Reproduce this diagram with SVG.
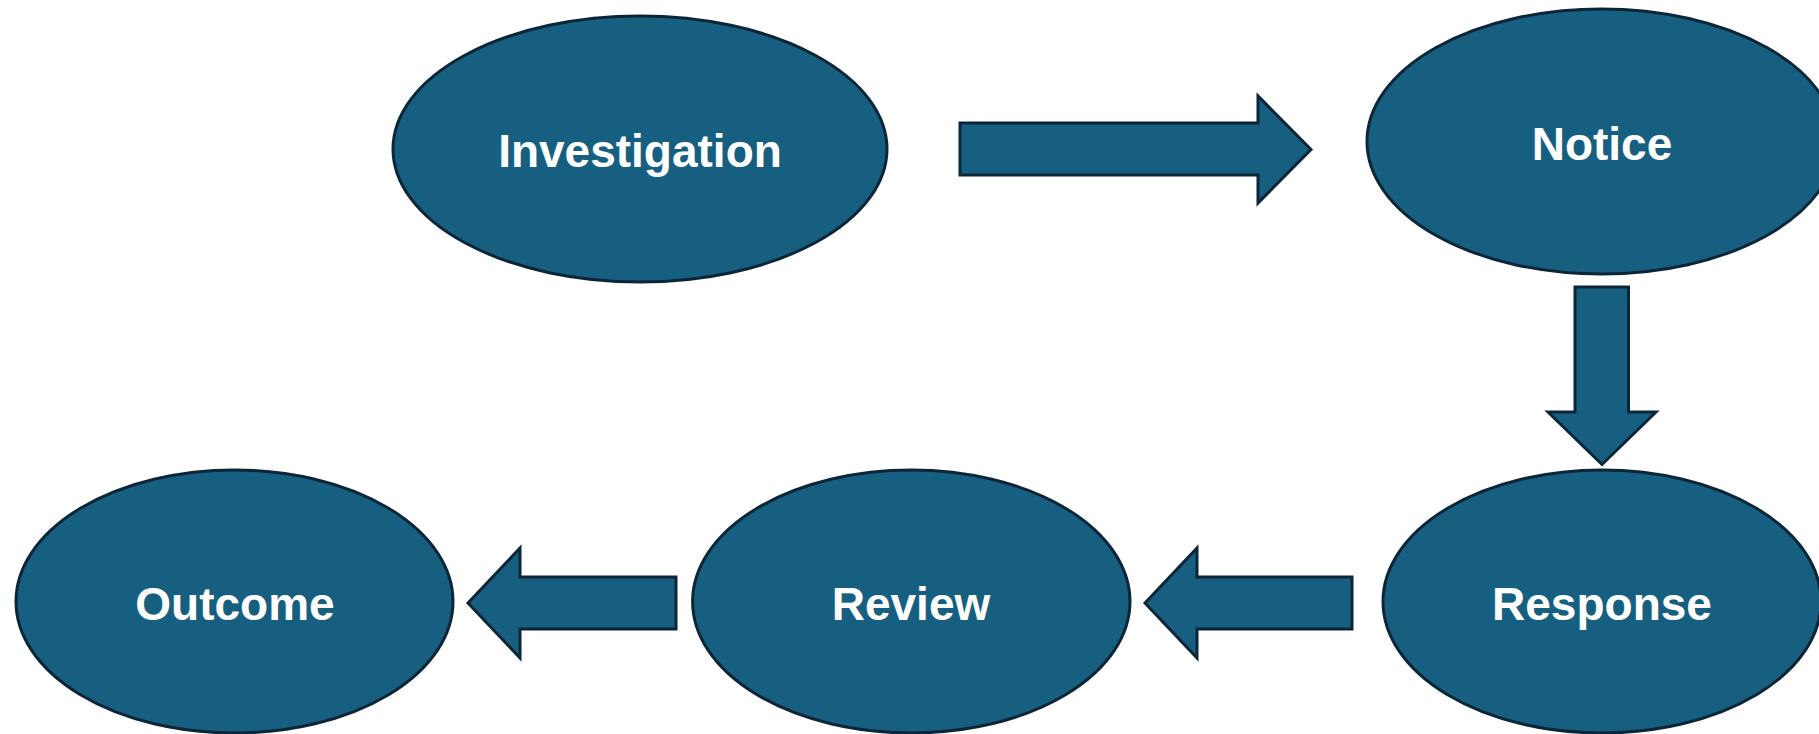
<svg xmlns="http://www.w3.org/2000/svg" width="1819" height="734" viewBox="0 0 1819 734">
<style>
.node{fill:#175F80;stroke:#0C2638;stroke-width:3}
.arrow{fill:#175F80;stroke:#0C2638;stroke-width:3;stroke-linejoin:miter}
.label{font-family:"Liberation Sans",Arial,sans-serif;font-weight:bold;font-size:46px;fill:#FFFFFF;text-anchor:middle}
</style>
<rect width="1819" height="734" fill="#FFFFFF"/>
<g id="connectors">
<polygon class="arrow" points="960,123 1258,123 1258,96 1311,149.5 1258,203 1258,175 960,175"/>
<polygon class="arrow" points="1575,287 1628.5,287 1628.5,412 1656,412 1602,464.5 1548,412 1575,412"/>
<polygon class="arrow" points="1352,577 1352,629 1197,629 1197,658 1145,603 1197,548 1197,577"/>
<polygon class="arrow" points="676,577 676,629 520,629 520,658 468,603 520,548 520,577"/>
</g>
<g id="investigation">
<ellipse class="node" cx="640" cy="149" rx="247" ry="133"/>
<text class="label" x="640" y="167">Investigation</text>
</g>
<g id="notice">
<ellipse class="node" cx="1601.5" cy="141.5" rx="234.5" ry="132.5"/>
<text class="label" x="1602" y="160">Notice</text>
</g>
<g id="response">
<ellipse class="node" cx="1602" cy="601.5" rx="219" ry="131.5"/>
<text class="label" x="1602" y="620">Response</text>
</g>
<g id="review">
<ellipse class="node" cx="911.3" cy="601.5" rx="218.7" ry="131.5"/>
<text class="label" x="911" y="620">Review</text>
</g>
<g id="outcome">
<ellipse class="node" cx="234.5" cy="601.5" rx="218.5" ry="131.5"/>
<text class="label" x="235" y="620">Outcome</text>
</g>
</svg>
